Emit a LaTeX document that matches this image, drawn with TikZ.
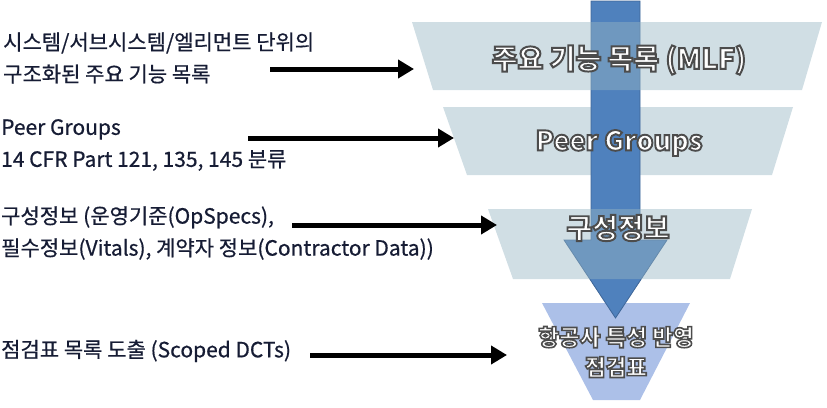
\documentclass[tikz,border=0pt]{standalone}
\usepackage{fontspec}
\setmainfont{Noto Sans CJK KR}
\newfontfamily\labelfont[FakeBold=0.6]{Noto Sans CJK KR}
\newfontfamily\funnelfont[BoldFeatures={FakeBold=7}]{Noto Sans CJK KR}
\usetikzlibrary{arrows.meta}
\definecolor{labelink}{RGB}{22,28,52}
\definecolor{trapfill}{RGB}{151,182,195}
\definecolor{lastfill}{RGB}{172,192,232}
\definecolor{arrowblue}{RGB}{79,129,189}
\definecolor{arrowedge}{RGB}{62,102,152}
\newcommand{\outl}[1]{{\color{white}\special{pdf:code 0.3 G}#1}}
\tikzset{
  leftlabel/.style={anchor=west, inner sep=0pt, align=left, text=labelink,
    font=\labelfont\fontsize{21}{32}\selectfont},
  funneltext/.style={inner sep=0pt, align=center},
  feeder/.style={line width=5pt, -{Triangle[length=16pt,width=18pt]}},
  trap/.style={fill=trapfill, fill opacity=0.45, draw=none},
}
\begin{document}
\begin{tikzpicture}[x=1pt, y=-1pt]
\useasboundingbox (0,0) rectangle (827,407);
% trapezoids behind the arrow
\path[trap] (443,107) -- (793,107) -- (772,175) -- (467,175) -- cycle;
\path[fill=lastfill] (542,303) -- (690,303) -- (640,400) -- (593,400) -- cycle;
% big arrow
\path[fill=arrowblue, draw=arrowedge, line width=0.8pt]
  (591,1) -- (640,1) -- (640,240) -- (667,240) -- (615.5,318) -- (564,240) -- (591,240) -- cycle;
% trapezoids over the arrow
\path[trap] (412,22) -- (822,22) -- (802,90) -- (433,90) -- cycle;
\path[trap] (488,209) -- (752,209) -- (730,279) -- (513,279) -- cycle;
% funnel texts
\node[funneltext, font=\funnelfont\bfseries\fontsize{28}{30}\selectfont] (f1) at (619,60) {\outl{주요 기능 목록 (MLF)}};
\node[funneltext, font=\funnelfont\bfseries\fontsize{27}{30}\selectfont] (f2) at (619,143) {\outl{Peer Groups}};
\node[funneltext, font=\funnelfont\bfseries\fontsize{28}{30}\selectfont] (f3) at (618,228) {\outl{구성정보}};
\node[funneltext, font=\funnelfont\bfseries\fontsize{22.5}{30}\selectfont] (f4) at (616,352) {\outl{항공사 특성 반영}\\\outl{점검표}};
% left labels
\node[leftlabel] (l1) at (3,58) {시스템/서브시스템/엘리먼트 단위의\\구조화된 주요 기능 목록};
\node[leftlabel] (l2) at (1,145) {Peer Groups\\14 CFR Part 121, 135, 145 분류};
\node[leftlabel] (l3) at (1,233) {구성정보 (운영기준(OpSpecs),\\필수정보(Vitals), 계약자 정보(Contractor Data))};
\node[leftlabel] (l4) at (1,351) {점검표 목록 도출 (Scoped DCTs)};
% connector ends
\coordinate (s1) at (270,69);  \coordinate (e1) at (414,69);
\coordinate (s2) at (248,138); \coordinate (e2) at (454,138);
\coordinate (s3) at (292,225); \coordinate (e3) at (497,225);
\coordinate (s4) at (310,355); \coordinate (e4) at (507,355);
\draw[feeder] (s1) -- (e1);
\draw[feeder] (s2) -- (e2);
\draw[feeder] (s3) -- (e3);
\draw[feeder] (s4) -- (e4);
\end{tikzpicture}
\end{document}
